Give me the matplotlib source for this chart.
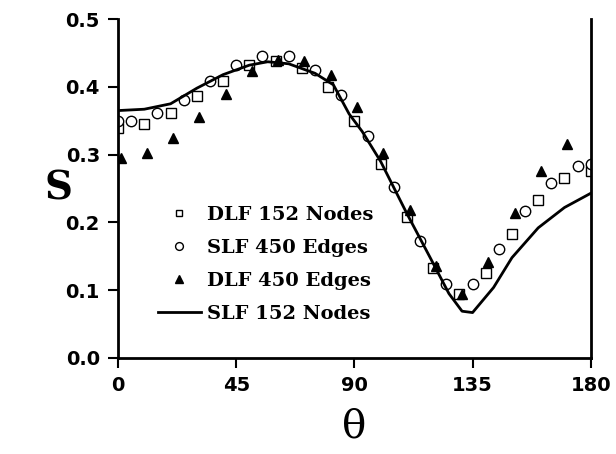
import numpy as np
import matplotlib
matplotlib.use("Agg")
import matplotlib.pyplot as plt

# DLF 152 Nodes (open squares)
sq_x = [0, 10, 20, 30, 40, 50, 60, 70, 80, 90, 100, 110, 120, 130, 140, 150, 160, 170, 180]
sq_y = [0.339, 0.345, 0.362, 0.386, 0.409, 0.432, 0.438, 0.428, 0.400, 0.350, 0.286,
        0.208, 0.133, 0.095, 0.126, 0.183, 0.233, 0.265, 0.276]

# SLF 450 Edges (open circles)
ci_x = [0, 5, 15, 25, 35, 45, 55, 65, 75, 85, 95, 105, 115, 125, 135, 145, 155, 165, 175, 180]
ci_y = [0.349, 0.350, 0.361, 0.381, 0.408, 0.432, 0.446, 0.446, 0.425, 0.388, 0.327,
        0.252, 0.173, 0.109, 0.109, 0.161, 0.217, 0.258, 0.283, 0.286]

# DLF 450 Edges (filled triangles)
tr_x = [1, 11, 21, 31, 41, 51, 61, 71, 81, 91, 101, 111, 121, 131, 141, 151, 161, 171]
tr_y = [0.295, 0.302, 0.324, 0.355, 0.390, 0.424, 0.440, 0.438, 0.418, 0.370, 0.302,
        0.218, 0.135, 0.094, 0.141, 0.214, 0.276, 0.315]

# SLF 152 Nodes (solid line)
ln_x = [0, 10, 20, 30, 40, 50, 57, 65, 75, 82, 88, 93, 100, 110, 119, 126, 131, 135,
        143, 150, 160, 170, 180]
ln_y = [0.365, 0.367, 0.375, 0.398, 0.418, 0.432, 0.437, 0.434, 0.420, 0.403, 0.360,
        0.334, 0.290, 0.213, 0.147, 0.095, 0.069, 0.067, 0.104, 0.148, 0.192, 0.222, 0.243]

xticks = [0, 45, 90, 135, 180]
yticks = [0.0, 0.1, 0.2, 0.3, 0.4, 0.5]

fig = plt.figure(figsize=(6.16, 4.54), dpi=100)
ax = fig.add_axes([0.1916, 0.2115, 0.7674, 0.7465])

ax.plot(sq_x, sq_y, ls='none', marker='s', ms=6.5, mfc='white', mec='black', mew=1.0,
        label='DLF 152 Nodes')
ax.plot(ci_x, ci_y, ls='none', marker='o', ms=7.5, mfc='white', mec='black', mew=1.0,
        label='SLF 450 Edges')
ax.plot(tr_x, tr_y, ls='none', marker='^', ms=7, mfc='black', mec='black',
        label='DLF 450 Edges')
ax.plot(ln_x, ln_y, color='black', lw=2.0, label='SLF 152 Nodes')

ax.set_xlim(0, 180)
ax.set_ylim(0, 0.5)
ax.set_xticks(xticks)
ax.set_yticks(yticks)
ax.set_yticklabels([f"{v:.1f}" for v in yticks])
ax.spines['top'].set_visible(False)
for s in ['left', 'bottom', 'right']:
    ax.spines[s].set_linewidth(2.0)
ax.tick_params(direction='out', length=7, width=1.5, labelsize=14, pad=6)
for lab in ax.get_xticklabels() + ax.get_yticklabels():
    lab.set_fontweight('bold')

ax.set_ylabel('S', fontsize=28, fontweight='bold', family='DejaVu Serif',
              rotation=0, labelpad=5, va='center')
ax.set_xlabel('θ', fontsize=29, family='DejaVu Serif', labelpad=10)

leg = ax.legend(loc='upper left', bbox_to_anchor=(0.068, 0.472), frameon=False,
                prop={'family': 'DejaVu Serif', 'weight': 'bold', 'size': 14},
                handlelength=2.2, handletextpad=0.3, labelspacing=0.78,
                markerscale=0.75, borderaxespad=0)

fig.savefig('out.png', dpi=100)
